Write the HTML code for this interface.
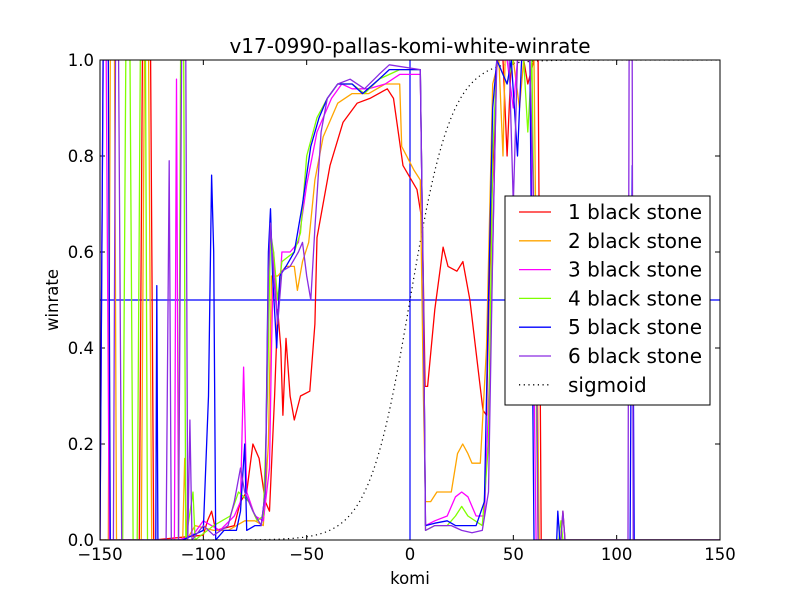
<!DOCTYPE html>
<html><head><meta charset="utf-8"><style>
body{margin:0;background:#fff;}
svg{display:block;font-family:"DejaVu Sans","Liberation Sans",sans-serif;}
</style></head><body>
<svg id="chart" width="800" height="600" viewBox="0 0 800 600">
<rect width="800" height="600" fill="#fff"/>
<defs><clipPath id="clip"><rect x="100" y="60" width="620" height="480"/></clipPath></defs>
<text x="410" y="53" text-anchor="middle" font-size="20">v17-0990-pallas-komi-white-winrate</text>
<text x="410" y="584" text-anchor="middle" font-size="16.5">komi</text>
<text x="58" y="300" text-anchor="middle" font-size="16.5" transform="rotate(-90 58 300)">winrate</text>
<g id="ticks"></g>
<g id="plot" clip-path="url(#clip)"></g>
<rect x="100" y="60" width="620" height="480" fill="none" stroke="#000" stroke-width="1"/>
<g id="legend"></g>
</svg>
<script>
const xTicks=[-150,-100,-50,0,50,100,150];
const yTicks=[0,0.2,0.4,0.6,0.8,1.0];
const seriesNames=["1 black stone","2 black stone","3 black stone","4 black stone","5 black stone","6 black stone"];
const seriesColors=["#ff0000","#ffa500","#ff00ff","#7fff00","#0000ff","#8a2be2"];
const s1=[[-150,0],[-131,0],[-129.5,1],[-125.5,1],[-124,0],[-100,0.01],[-98,0.04],[-96,0.06],[-94,0.02],[-85,0.03],[-82,0.08],[-79,0.1],[-76,0.2],[-73,0.17],[-70,0.08],[-68,0.06],[-65.5,0.3],[-64,0.48],[-62.5,0.4],[-61.5,0.26],[-60,0.42],[-58,0.3],[-56,0.25],[-53,0.3],[-48.5,0.31],[-46,0.45],[-45,0.63],[-38.7,0.78],[-32.4,0.87],[-25.6,0.91],[-19.4,0.92],[-11,0.94],[-8,0.92],[-3.4,0.78],[3.4,0.73],[6,0.66],[7.3,0.32],[8.5,0.32],[12,0.48],[16,0.61],[18.4,0.57],[22.7,0.56],[25.6,0.58],[29,0.5],[35.3,0.27],[37,0.26],[38.7,0.6],[42,1],[45,1],[47,0.8],[49,1],[55,1],[57,0.95],[60,1],[62,1],[63.5,0],[73,0],[74,0.06],[75,0],[150,0]];
const s2=[[-150,0],[-146,0],[-145,1],[-143,1],[-142,0],[-130,0],[-128.5,1],[-126.5,1],[-125,0],[-110,0],[-109,0.17],[-108,0],[-104,0.03],[-95,0.02],[-88,0.02],[-80,0.04],[-75,0.04],[-71,0.03],[-68.5,0.2],[-67,0.55],[-64,0.55],[-60,0.57],[-56,0.57],[-54.5,0.52],[-52,0.58],[-49,0.62],[-46,0.75],[-42,0.84],[-35,0.91],[-28,0.93],[-20,0.93],[-12,0.95],[-5,0.95],[-4,0.82],[2,0.77],[5,0.75],[6.5,0.3],[7.5,0.08],[10,0.08],[13,0.1],[15,0.1],[20,0.1],[23,0.18],[25.5,0.2],[28,0.18],[30,0.16],[34,0.16],[37,0.4],[40,0.95],[43,1],[45,0.8],[46,1],[50,1],[53,0.9],[55,1],[60,1],[62.5,0],[150,0]];
const s3=[[-150,0],[-148.5,1],[-147,1],[-145.5,0],[-120,0],[-114,0],[-113,0.96],[-112,0],[-105,0.01],[-100,0.04],[-92,0.02],[-85,0.05],[-82,0.08],[-80.5,0.36],[-79,0.1],[-75,0.05],[-71,0.04],[-68,0.15],[-67,0.4],[-66,0.6],[-64,0.45],[-62,0.6],[-58,0.6],[-54,0.62],[-50,0.74],[-45,0.85],[-38,0.92],[-33,0.95],[-28,0.94],[-20,0.94],[-12,0.95],[-5,0.97],[5,0.97],[6.5,0.5],[7.5,0.03],[12,0.04],[18,0.05],[22,0.09],[25,0.1],[28,0.09],[32,0.05],[36,0.05],[39,0.4],[42,1],[47,1],[50,0.9],[52,1],[58,1],[61,0],[150,0]];
const s4=[[-150,0],[-139,0],[-137.5,1],[-135.5,1],[-134,0],[-132,0],[-130.5,1],[-128,1],[-127,0],[-112,0],[-111,1],[-109.5,1],[-108.5,0],[-105,0.1],[-104,0],[-95,0.03],[-87,0.05],[-83,0.1],[-78,0.08],[-74,0.04],[-71,0.05],[-69,0.3],[-67.5,0.64],[-66,0.6],[-64,0.5],[-62,0.58],[-56,0.6],[-53,0.64],[-50,0.8],[-45,0.88],[-40,0.92],[-35,0.95],[-28,0.95],[-22,0.93],[-15,0.96],[-5,0.98],[5,0.98],[6.5,0.5],[7.5,0.02],[12,0.03],[18,0.03],[22,0.05],[25,0.07],[28,0.05],[35,0.03],[38,0.2],[40,0.8],[42,1],[47,0.95],[50,1],[55,1],[57,0.85],[59,1],[62,0],[72,0],[73,0.04],[74,0],[150,0]];
const s5=[[-150,0],[-148.5,1],[-146,1],[-145,0],[-123,0],[-122.5,0.53],[-122,0],[-110,0],[-105,0.01],[-100,0.02],[-97.5,0.3],[-96,0.76],[-95,0.6],[-94,0],[-90,0.02],[-84,0.02],[-82,0.06],[-80,0.2],[-79,0.02],[-75,0.03],[-72,0.03],[-70,0.1],[-68.5,0.6],[-67.5,0.69],[-66.5,0.55],[-64.5,0.4],[-63,0.55],[-60,0.57],[-56,0.6],[-52,0.7],[-48,0.82],[-44,0.88],[-40,0.92],[-35,0.95],[-28,0.95],[-23,0.93],[-15,0.96],[-10,0.98],[5,0.98],[6.5,0.5],[7.5,0.03],[12,0.035],[18,0.04],[22,0.03],[26,0.03],[32,0.03],[36,0.08],[38,0.5],[40,0.9],[42,1],[47,0.95],[49,1],[52,0.8],[54,1],[58,1],[60,0],[71,0],[71.5,0.06],[72.5,0],[106.5,0],[107.5,0.78],[108.5,0],[150,0]];
const s6=[[-150,0],[-143.5,0],[-142.5,1],[-141,1],[-139.5,0],[-118,0],[-116.5,0.79],[-115.5,0],[-112,0],[-110.5,1],[-108.5,1],[-107.5,0],[-106.5,0.25],[-105.5,0],[-100,0.03],[-95,0.01],[-88,0.03],[-85,0.08],[-82,0.15],[-80,0.1],[-76,0.06],[-72,0.03],[-70,0.1],[-68.5,0.55],[-67.5,0.66],[-66,0.55],[-64,0.45],[-62,0.56],[-58,0.57],[-54,0.6],[-52,0.62],[-50,0.55],[-48,0.5],[-46,0.65],[-43,0.85],[-40,0.92],[-35,0.95],[-29,0.96],[-22,0.94],[-15,0.97],[-10,0.99],[5,0.98],[6.5,0.5],[7.5,0.02],[12,0.03],[20,0.03],[25,0.02],[30,0.015],[35,0.02],[38,0.1],[40,0.6],[42,1],[48,1],[50,0.7],[52,1],[58,1],[61,0.5],[62,0],[73,0],[74,0.06],[75,0],[105.5,0],[106,1],[107.5,1],[108,0],[150,0]];
const allSeries=[s1,s2,s3,s4,s5,s6];
const sigmoidScale=10;

const NS="http://www.w3.org/2000/svg";
const X0=100,X1=720,Y0=540,Y1=60;
function xs(k){return X0+(k+150)/300*(X1-X0);}
function ys(v){return Y0-v*(Y0-Y1);}
function mk(tag,attrs,parent){const e=document.createElementNS(NS,tag);for(const k in attrs)e.setAttribute(k,attrs[k]);parent.appendChild(e);return e;}
const plot=document.getElementById('plot'),ticks=document.getElementById('ticks'),legend=document.getElementById('legend');

xTicks.forEach(t=>{
  const x=xs(t);
  const a=mk('line',{x1:x,y1:Y0,x2:x,y2:Y0-5,stroke:'#000'},ticks);
  
  
  const b=mk('line',{x1:x,y1:Y1,x2:x,y2:Y1+5,stroke:'#000'},ticks);
  
  
  const l=mk('text',{x:x,y:Y0+20,'text-anchor':'middle','font-size':'16.5'},ticks);
  l.textContent=(t<0?'\u2212':'')+Math.abs(t);
  
  
});
yTicks.forEach(t=>{
  const y=ys(t);
  const a=mk('line',{x1:X0,y1:y,x2:X0+5,y2:y,stroke:'#000'},ticks);
  
  
  const b=mk('line',{x1:X1,y1:y,x2:X1-5,y2:y,stroke:'#000'},ticks);
  
  
  const l=mk('text',{x:X0-6,y:y+6,'text-anchor':'end','font-size':'16.5'},ticks);
  l.textContent=t.toFixed(1);
  
  
});

const hl=mk('line',{x1:X0,x2:X1,y1:ys(0.5),y2:ys(0.5),stroke:'#0000ff','stroke-width':1.2},plot);


const vl=mk('line',{x1:xs(0),x2:xs(0),y1:Y0,y2:Y1,stroke:'#0000ff','stroke-width':1.2},plot);



let sp=[];
for(let k=-150;k<=150;k+=0.5){sp.push(xs(k).toFixed(1)+','+ys(1/(1+Math.exp(-k/sigmoidScale))).toFixed(1));}
const sig=mk('polyline',{points:sp.join(' '),fill:'none',stroke:'#000','stroke-width':1.2,'stroke-dasharray':'1.2,3.5'},plot);



allSeries.forEach((s,i)=>{
  const p=mk('polyline',{points:s.map(d=>xs(d[0]).toFixed(1)+','+ys(d[1]).toFixed(1)).join(' '),fill:'none',stroke:seriesColors[i],'stroke-width':1.3,'stroke-linejoin':'round'},plot);
  
  
});

const lb=mk('rect',{x:505,y:196,width:205,height:209,fill:'#fff',stroke:'#000','stroke-width':1},legend);


const names=seriesNames.concat(['sigmoid']);
names.forEach((n,i)=>{
  const y=212+i*28.8;
  const ln=mk('line',{x1:519,x2:551,y1:y,y2:y,stroke:i<6?seriesColors[i]:'#000','stroke-width':1.3},legend);
  if(i==6)ln.setAttribute('stroke-dasharray','1.2,3.5');
  
  
  const t=mk('text',{x:568,y:y+7,'font-size':'20'},legend);
  t.textContent=n;
  
  
});
</script>
</body></html>
